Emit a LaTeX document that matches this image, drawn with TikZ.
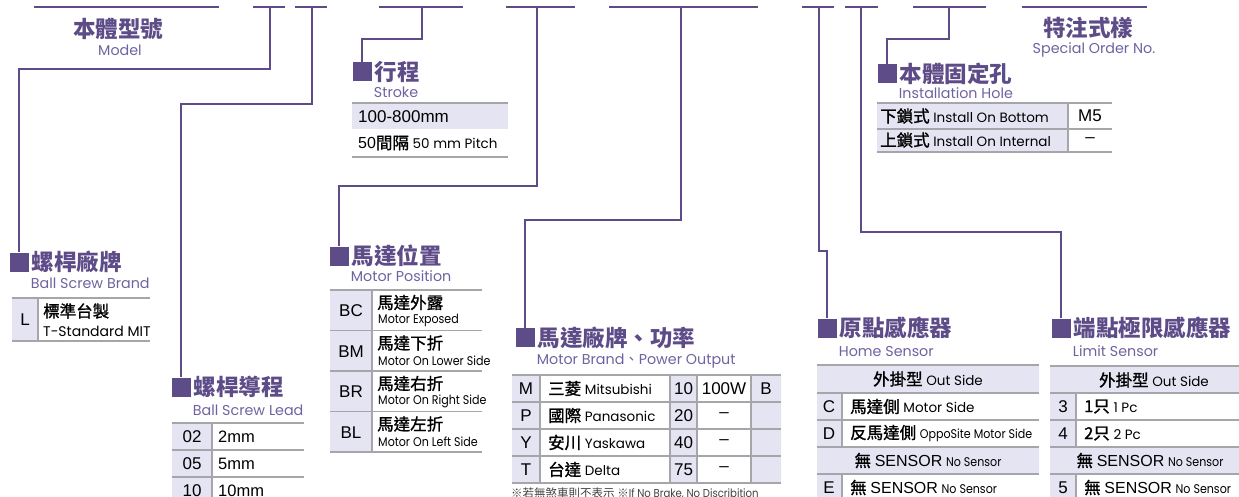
\documentclass[tikz,border=0pt]{standalone}
\usepackage{fontspec}
\setmainfont{Liberation Sans}
\newfontfamily\cjk{Noto Sans CJK TC}
\newfontfamily\cjkm{Noto Sans CJK TC}[FakeBold=1.3]
\newfontfamily\geo{Poppins}
\newfontfamily\geon{Poppins}[FakeStretch=0.88]
\usetikzlibrary{positioning,calc}
\definecolor{purp}{RGB}{94,76,136}
\definecolor{purpl}{RGB}{112,98,160}
\definecolor{lav}{RGB}{228,228,243}
\definecolor{rulegray}{RGB}{165,165,170}
\newcommand\engl[1]{{\geo\mdseries\fontsize{13.5}{13.5}\selectfont #1}}
\newcommand\engn[1]{{\geon\mdseries\fontsize{12.6}{12.6}\selectfont #1}}
\newcommand\latn[1]{{\normalfont\fontsize{16}{16}\selectfont #1}}
\tikzset{headmark/.style={fill=purp, minimum size=19pt, inner sep=0pt}}
\tikzset{headtxt/.style={text=purp, font=\cjk\bfseries\fontsize{22.5}{22.5}\selectfont, inner sep=1pt}}
\tikzset{subtxt/.style={text=purpl, font=\geo\fontsize{14.3}{14.3}\selectfont, inner sep=0pt, anchor=west}}
\tikzset{line/.style={draw=purp, line width=1.3pt}}
\tikzset{rule/.style={draw=rulegray, line width=1.4pt}}
\tikzset{cell/.style={inner sep=0pt, anchor=west, font=\cjkm\fontsize{16.5}{16.5}\selectfont}}
\tikzset{codetxt/.style={inner sep=0pt, font=\fontsize{17}{17}\selectfont}}

\begin{document}
\begin{tikzpicture}[x=1pt, y=-1pt]
\useasboundingbox (0,0) rectangle (1239,497);

% code segments on top
\foreach \a/\b in {34/219, 253/285, 295/327, 379/463, 506/575, 609/758, 802/834, 845/878, 913/986, 1022/1147}
	\draw [line] (\a,7) -- (\b,7);
\coordinate (c2) at (270,7);
\coordinate (c3) at (312,7);
\coordinate (c4) at (422,7);
\coordinate (c5) at (537,7);
\coordinate (c6) at (681,7);
\coordinate (c7) at (819,7);
\coordinate (c8) at (861,7);
\coordinate (c9) at (949,7);

\node [headtxt]					(model) at (118,29) {本體型號};
\node [subtxt, anchor=center]	(modele) at (120,50) {Model};
\node [headtxt]					(spec) at (1088,28) {特注式樣};
\node [subtxt, anchor=center]	(spece) at (1094,50) {Special Order No.};

% ball screw brand
\node [headmark]				(m2) at (19,262) {};
\node [headtxt, right=2pt of m2]	(h2) {螺桿廠牌};
\node [subtxt]					(s2) at ([yshift=-21pt]h2.west) {Ball Screw Brand};
\fill [lav] (12,298) rectangle (38,341);
\draw [rule] (12,298) -- (150,298) (12,341) -- (150,341) (38,298) -- (38,341);
\node [codetxt]					(l) at (25,320) {L};
\node [cell]					(la) at (43,311) {標準台製};
\node [cell, font=\geo\fontsize{14}{14}\selectfont]	(lb) at (43,331) {T-Standard MIT};

% ball screw lead
\node [headmark]				(m3) at (181,387) {};
\node [headtxt, right=2pt of m3]	(h3) {螺桿導程};
\node [subtxt]					(s3) at ([yshift=-23pt]h3.west) {Ball Screw Lead};
\fill [lav] (172,423) rectangle (212,510);
\foreach \y in {423,450,477,504} \draw [rule] (172,\y) -- (304,\y);
\draw [rule] (212,423) -- (212,510);
\foreach \cd/\tx/\yy [count=\i] in {02/2mm/437, 05/5mm/464, 10/10mm/491} {
	\node [codetxt]				(d\i) at (192,\yy) {\cd};
	\node [cell, font=\normalfont\fontsize{16.5}{16.5}\selectfont]	(e\i) at (218,\yy) {\tx};
}

% stroke
\node [headmark]				(m4) at (362,71.5) {};
\node [headtxt, right=2pt of m4]	(h4) {行程};
\node [subtxt]					(s4) at ([yshift=-21pt]h4.west) {Stroke};
\fill [lav] (352,103) rectangle (508,129);
\foreach \y in {103,157} \draw [rule] (352,\y) -- (508,\y);
\node [cell, font=\normalfont\fontsize{17}{17}\selectfont]	(st1) at (358,117) {100-800mm};
\node [cell]					(st2) at (358,143) {\latn{50}間隔 \engl{50 mm Pitch}};

% motor position
\node [headmark]				(m5) at (339,256) {};
\node [headtxt, right=2pt of m5]	(h5) {馬達位置};
\node [subtxt]					(s5) at ([yshift=-20pt]h5.west) {Motor Position};
\fill [lav] (330,290) rectangle (372,452);
\foreach \y in {290,330.5,371,411.5,452} \draw [rule] (330,\y) -- (482,\y);
\draw [rule] (372,290) -- (372,452);
\foreach \cd/\zh/\tx [count=\i] in {BC/馬達外露/Motor Exposed, BM/馬達下折/Motor On Lower Side, BR/馬達右折/Motor On Right Side, BL/馬達左折/Motor On Left Side} {
	\pgfmathsetmacro\yy{290+40.5*(\i-1)}
	\node [codetxt]				(p\i) at (351,\yy+21) {\cd};
	\node [cell]				(pz\i) at (377,\yy+12.5) {\zh};
	\node [cell]				(pe\i) at (378,\yy+30) {\engn{\tx}};
}

% motor brand, power
\node [headmark]				(m6) at (525,337.5) {};
\node [headtxt, right=2pt of m6]	(h6) {馬達廠牌、功率};
\node [subtxt]					(s6) at ([yshift=-24pt]h6.west) {Motor Brand{\cjk 、}Power Output};
\fill [lav] (512,375) rectangle (540,483) (670,375) rectangle (697,483) (751,375) rectangle (781,483);
\foreach \y in {375,402,429,456,483} \draw [rule] (512,\y) -- (781,\y);
\foreach \x in {540,670,697,751} \draw [rule] (\x,375) -- (\x,483);
\foreach \cd/\zh/\tx/\kw/\pw [count=\i] in {M/三菱/Mitsubishi/10/100W, P/國際/Panasonic/20/–, Y/安川/Yaskawa/40/–, T/台達/Delta/75/–} {
	\pgfmathsetmacro\yy{375+27*(\i-1)+13.5}
	\node [codetxt]				(b\i) at (526,\yy) {\cd};
	\node [cell]				(bz\i) at (548,\yy) {\zh\ \engl{\tx}};
	\node [codetxt]				(k\i) at (683.5,\yy) {\kw};
	\node [codetxt]				(w\i) at (724,\yy) {\pw};
}
\node [codetxt]					(brk) at (766,388.5) {B};
\node [cell, text=black!75, font=\cjk\fontsize{11.5}{11.5}\selectfont]	(note) at (511,493) {※若無煞車則不表示 ※{\geon\fontsize{11.5}{11.5}\selectfont If No Brake, No Discribition}};

% home sensor
\node [headmark]				(m7) at (827,328) {};
\node [headtxt, right=2pt of m7]	(h7) {原點感應器};
\node [subtxt]					(s7) at ([yshift=-24pt]h7.west) {Home Sensor};
\fill [lav] (817,365) rectangle (1039,393) (817,447) rectangle (1039,474) (817,393) rectangle (842,447) (817,474) rectangle (842,510);
\foreach \y in {365,393,420,447,474,501} \draw [rule] (817,\y) -- (1039,\y);
\draw [rule] (842,393) -- (842,447) (842,474) -- (842,510);
\node [cell, anchor=center]		(hh) at (928,379) {外掛型 \engl{Out Side}};
\node [codetxt]					(hc) at (829,406.5) {C};
\node [cell]					(hcz) at (850,406.5) {馬達側 \engl{Motor Side}};
\node [codetxt]					(hd) at (829,433.5) {D};
\node [cell]					(hdz) at (850,433.5) {反馬達側 \engn{OppoSite Motor Side}};
\node [cell, anchor=center]		(hn) at (928,460.5) {無 \latn{SENSOR} \engn{No Sensor}};
\node [codetxt]					(he) at (829,487.5) {E};
\node [cell]					(hez) at (850,487.5) {無 \latn{SENSOR} \engn{No Sensor}};

% limit sensor
\node [headmark]				(m8) at (1061,328) {};
\node [headtxt, right=2pt of m8]	(h8) {端點極限感應器};
\node [subtxt]					(s8) at ([yshift=-23pt]h8.west) {Limit Sensor};
\fill [lav] (1050,366) rectangle (1260,393) (1050,447) rectangle (1260,474) (1050,393) rectangle (1076,447) (1050,474) rectangle (1076,510);
\foreach \y in {366,393,420,447,474,501} \draw [rule] (1050,\y) -- (1260,\y);
\draw [rule] (1076,393) -- (1076,447) (1076,474) -- (1076,510);
\node [cell, anchor=center]		(lh) at (1154,380) {外掛型 \engl{Out Side}};
\node [codetxt]					(l3) at (1063,406.5) {3};
\node [cell]					(l3z) at (1084,406.5) {1只 \engl{1 Pc}};
\node [codetxt]					(l4) at (1063,433.5) {4};
\node [cell]					(l4z) at (1084,433.5) {2只 \engl{2 Pc}};
\node [cell, anchor=center]		(ln) at (1150,460.5) {無 \latn{SENSOR} \engn{No Sensor}};
\node [codetxt]					(l5) at (1063,487.5) {5};
\node [cell]					(l5z) at (1084,487.5) {無 \latn{SENSOR} \engn{No Sensor}};

% installation hole
\node [headmark]				(m9) at (887,74) {};
\node [headtxt, right=2pt of m9]	(h9) {本體固定孔};
\node [subtxt]					(s9) at ([yshift=-19pt]h9.west) {Installation Hole};
\fill [lav] (877,103) rectangle (1068,152);
\foreach \y in {103,129,152} \draw [rule] (877,\y) -- (1112,\y);
\draw [rule] (1068,103) -- (1068,152);
\node [cell]					(i1) at (880,116) {下鎖式 \engl{Install On Bottom}};
\node [codetxt]					(i1c) at (1090,116) {M5};
\node [cell]					(i2) at (880,140) {上鎖式 \engl{Install On Internal}};
\node [codetxt]					(i2c) at (1090,140) {–};

% connectors
\path [line] (c2) -- ++(0,62) -| (m2.north);
\path [line] (c3) -- ++(0,97) -| (m3.north);
\path [line] (c4) -- ++(0,32) -| (m4.north);
\path [line] (c5) -- ++(0,179) -| (m5.north);
\path [line] (c6) -- ++(0,213) -| (m6.north);
\path [line] (c7) -- ++(0,244) -| (m7.north);
\path [line] (c8) -- ++(0,225) -| (m8.north);
\path [line] (c9) -- ++(0,32) -| (m9.north);
\end{tikzpicture}
\end{document}
